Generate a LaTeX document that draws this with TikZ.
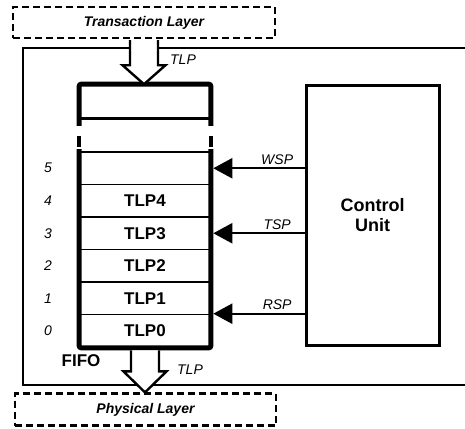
\documentclass[tikz,border=0pt]{standalone}
\usepackage{fontspec}
\setmainfont{Liberation Sans}
\usetikzlibrary{arrows.meta,calc}
\newcommand{\hollowarr}[3]{%
  \draw[harr] let \p1=(#1), \p2=(#2) in
    (\x1-14pt,\y1) -- (\x1-14pt,\y2+#3) -- (\x1-21.5pt,\y2+#3) -- (\x1,\y2)
    -- (\x1+21.5pt,\y2+#3) -- (\x1+14pt,\y2+#3) -- (\x1+14pt,\y1);}
\begin{document}
\begin{tikzpicture}[x=1pt,y=-1pt,
  layer/.style={draw, line width=2.2pt, dash pattern=on 7pt off 4pt, inner sep=0pt,
    font=\fontsize{14}{16}\selectfont\bfseries\itshape},
  lbl/.style={font=\fontsize{14}{16}\selectfont\itshape, inner sep=1pt},
  big/.style={font=\fontsize{17}{20}\selectfont\bfseries},
  row/.style={draw, line width=1.6pt, minimum width=130pt, minimum height=32.5pt, inner sep=0pt, big},
  sig/.style={line width=2.2pt, -{Triangle[length=19pt,width=20pt]}},
  harr/.style={draw, fill=white, line width=2.4pt, line join=miter},
]
\useasboundingbox (0,0) rectangle (465,428);
% outer frame
\draw[line width=2pt] (465,48) -- (23,48) -- (23,385) -- (465,385);
% layers
\node[layer, minimum width=262pt, minimum height=31pt] (tl) at (144,22.5) {Transaction Layer};
\node[layer, minimum width=261pt, minimum height=32pt] (pl) at (145.5,409.5) {Physical Layer};
% FIFO rows
\foreach \i/\t in {0/TLP0,1/TLP1,2/TLP2,3/TLP3,4/TLP4,5/{}} {
  \node[row] (r\i) at (145,{347-32.5*(\i+0.5)}) {\t};
  \node[lbl] (n\i) at (48,{347-32.5*(\i+0.5)}) {\i};
}
% top slot
\node[draw, line width=1.6pt, minimum width=130pt, minimum height=33pt, inner sep=0pt] (top) at (145,101.5) {};
\draw[line width=5pt, rounded corners=2pt] ($(top.south west)+(0,7)$) -- (top.north west) -- (top.north east) -- ($(top.south east)+(0,7)$);
\draw[line width=3pt] (top.south west) -- (top.south east);
\draw[line width=4pt] ($(top.south west)+(0,17)$) -- ($(top.south west)+(0,28)$);
\draw[line width=4pt] ($(top.south east)+(0,17)$) -- ($(top.south east)+(0,28)$);
% FIFO thick outline
\draw[line width=5pt, rounded corners=2pt] ($(r5.north west)+(0,-2)$) -- (r0.south west) -- (r0.south east) -- ($(r5.north east)+(0,-2)$);
\node[big] (fifo) at (81,361) {FIFO};
% hollow arrows
\hollowarr{$(tl.south)+(0,1.1)$}{top.north}{19pt}
\hollowarr{$(r0.south)+(0,2.5)$}{pl.north}{21pt}
\node[lbl] (tlpa) at (183,60) {TLP};
\node[lbl] (tlpb) at (190,370) {TLP};
% control unit
\node[draw, line width=3pt, minimum width=133pt, minimum height=260pt, align=center,
  font=\fontsize{18}{20}\selectfont\bfseries] (cu) at (372.5,215) {Control\\Unit};
% signals
\draw[sig] (cu.west |- r5.east) -- node[lbl, pos=0.3, above=2pt] (wsp) {WSP} ($(r5.east)+(2.5,0)$);
\draw[sig] (cu.west |- r3.east) -- node[lbl, pos=0.3, above=2pt] (tsp) {TSP} ($(r3.east)+(2.5,0)$);
\draw[sig] (cu.west |- r0.north east) -- node[lbl, pos=0.3, above=2pt] (rsp) {RSP} ($(r0.north east)+(2.5,0)$);
\end{tikzpicture}
\end{document}
